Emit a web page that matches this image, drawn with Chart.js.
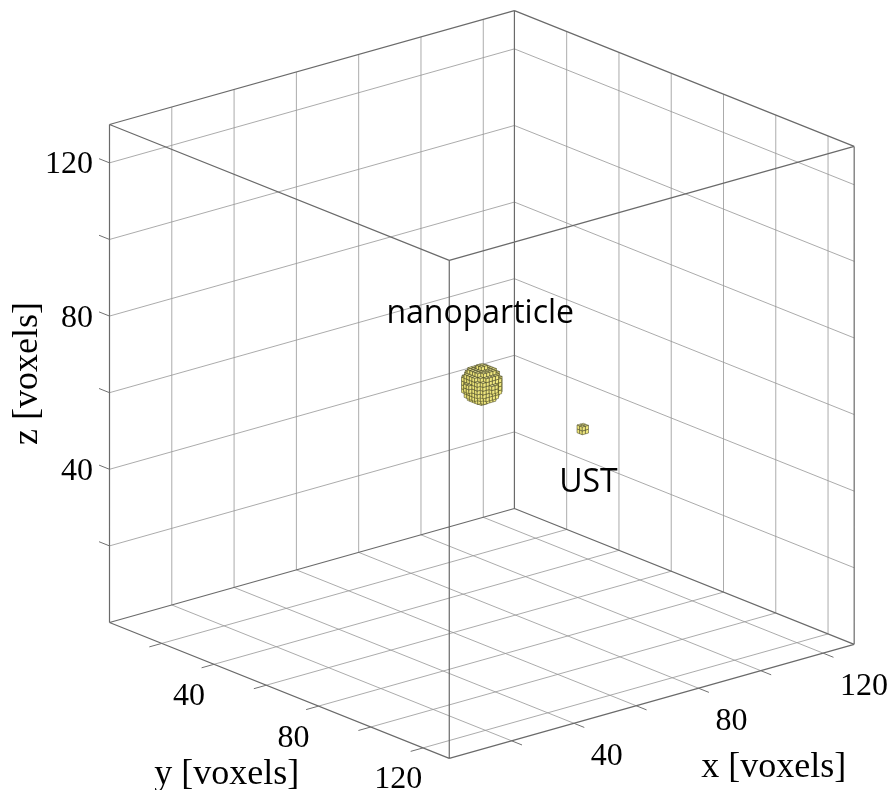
<!DOCTYPE html>
<html>
<head>
<meta charset="utf-8">
<script src="https://cdn.jsdelivr.net/npm/chart.js@4.4.0/dist/chart.umd.min.js"></script>
<style>
  html, body { margin: 0; padding: 0; background: #fff; }
  canvas { display: block; }
</style>
</head>
<body>
<canvas id="chart" width="891" height="790"></canvas>
<script>
// axis limits and ticks (voxels)
const axisMin = 0;
const axisMax = 130;
const xTicks = [20, 40, 60, 80, 100, 120];
const yTicks = [20, 40, 60, 80, 100, 120];
const zTicks = [20, 40, 60, 80, 100, 120];
const xTickLabels = ['', '40', '', '80', '', '120'];
const yTickLabels = ['', '40', '', '80', '', '120'];
const zTickLabels = ['', '40', '', '80', '', '120'];
const axisTitles = ['x [voxels]', 'y [voxels]', 'z [voxels]'];

// camera angles, degrees
const viewAzimuth = 40;
const viewElevation = 19.6;

// voxelised objects in the volume
const objectNames = ['nanoparticle', 'UST'];
const objectX = [65, 63];
const objectY = [65, 106];
const objectZ = [65, 65];
const objectRadius = [4.6, 1.2];

// layout (pixels)
const W = 891, H = 790;
const originPx = [109.5, 622.5];   // where (0,0,0) lands
const pxPerUnit = 4.066;
const tickLen = 4;                 // data units
const objectLabelOffset = [[-1.6, -61], [5.7, 63]];

const az = viewAzimuth * Math.PI / 180;
const el = viewElevation * Math.PI / 180;

// orthographic view -> 2D plane coordinates
function proj(x, y, z) {
    return {
        x: x * Math.cos(az) + y * Math.sin(az),
        y: z * Math.cos(el) + Math.sin(el) * (x * Math.sin(az) - y * Math.cos(az))
    };
}

function toPoints(segments) {
    const pts = [];
    segments.forEach(([a, b]) => {
        pts.push(proj(...a), proj(...b), { x: NaN, y: NaN });
    });
    return pts;
}

const M = axisMax, m = axisMin;

// grid on the floor and the two back walls
const gridSegs = [];
xTicks.forEach(t => {
    gridSegs.push([[t, m, m], [t, M, m]]);
    gridSegs.push([[t, m, m], [t, m, M]]);
});
yTicks.forEach(t => {
    gridSegs.push([[m, t, m], [M, t, m]]);
    gridSegs.push([[M, t, m], [M, t, M]]);
});
zTicks.forEach(t => {
    gridSegs.push([[m, m, t], [M, m, t]]);
    gridSegs.push([[M, m, t], [M, M, t]]);
});

// box edges
const boxSegs = [
    [[m, m, m], [M, m, m]], [[M, m, m], [M, M, m]], [[M, M, m], [m, M, m]], [[m, M, m], [m, m, m]],
    [[m, m, M], [M, m, M]], [[M, m, M], [M, M, M]], [[M, M, M], [m, M, M]], [[m, M, M], [m, m, M]],
    [[m, m, m], [m, m, M]], [[M, m, m], [M, m, M]], [[M, M, m], [M, M, M]], [[m, M, m], [m, M, M]]
];

// tick marks
const tickSegs = [];
xTicks.forEach(t => tickSegs.push([[t, M, m], [t, M + tickLen, m]]));
yTicks.forEach(t => tickSegs.push([[m, t, m], [m - tickLen, t, m]]));
zTicks.forEach(t => tickSegs.push([[m, m, t], [m, m - tickLen, t]]));

// voxel surfaces facing the camera, sorted back to front
const view = [-Math.cos(el) * Math.sin(az), Math.cos(el) * Math.cos(az), Math.sin(el)];
function voxelFaces(cx, cy, cz, r) {
    const cells = new Set();
    const list = [];
    const n = Math.ceil(r) + 1;
    const bx = Math.floor(cx), by = Math.floor(cy), bz = Math.floor(cz);
    for (let i = bx - n; i <= bx + n; i++)
        for (let j = by - n; j <= by + n; j++)
            for (let k = bz - n; k <= bz + n; k++) {
                const d = Math.hypot(i + 0.5 - cx, j + 0.5 - cy, k + 0.5 - cz);
                if (d <= r) { cells.add(i + ',' + j + ',' + k); list.push([i, j, k]); }
            }
    const has = (i, j, k) => cells.has(i + ',' + j + ',' + k);
    const faces = [];
    list.forEach(([i, j, k]) => {
        if (!has(i - 1, j, k)) faces.push({ c: [[i, j, k], [i, j + 1, k], [i, j + 1, k + 1], [i, j, k + 1]], s: 0 });
        if (!has(i, j + 1, k)) faces.push({ c: [[i, j + 1, k], [i + 1, j + 1, k], [i + 1, j + 1, k + 1], [i, j + 1, k + 1]], s: 1 });
        if (!has(i, j, k + 1)) faces.push({ c: [[i, j, k + 1], [i + 1, j, k + 1], [i + 1, j + 1, k + 1], [i, j + 1, k + 1]], s: 2 });
    });
    faces.forEach(f => {
        let d = 0;
        f.c.forEach(p => { d += p[0] * view[0] + p[1] * view[1] + p[2] * view[2]; });
        f.depth = d;
    });
    faces.sort((a, b) => a.depth - b.depth);
    return faces;
}

const faceColors = ['#ece377', '#f0e87f', '#f5ef98'];

const overlayPlugin = {
    id: 'overlay',
    afterDatasetsDraw(chart) {
        const ctx = chart.ctx;
        const sx = chart.scales.x, sy = chart.scales.y;
        const px = (x, y, z) => {
            const p = proj(x, y, z);
            return [sx.getPixelForValue(p.x), sy.getPixelForValue(p.y)];
        };
        ctx.save();

        // voxel objects
        objectNames.forEach((name, o) => {
            const faces = voxelFaces(objectX[o], objectY[o], objectZ[o], objectRadius[o]);
            ctx.lineWidth = 0.6;
            ctx.strokeStyle = 'rgba(60,60,30,0.85)';
            faces.forEach(f => {
                ctx.beginPath();
                f.c.forEach((p, idx) => {
                    const q = px(...p);
                    if (idx === 0) ctx.moveTo(q[0], q[1]); else ctx.lineTo(q[0], q[1]);
                });
                ctx.closePath();
                ctx.fillStyle = faceColors[f.s];
                ctx.fill();
                ctx.stroke();
            });
        });

        // object labels
        ctx.fillStyle = '#000';
        ctx.font = '32px "Open Sans"';
        ctx.textAlign = 'center';
        ctx.textBaseline = 'alphabetic';
        objectNames.forEach((name, o) => {
            const c = px(objectX[o], objectY[o], objectZ[o]);
            ctx.fillText(name, c[0] + objectLabelOffset[o][0], c[1] + objectLabelOffset[o][1]);
        });

        // tick labels
        ctx.font = '32px "Liberation Serif"';
        zTicks.forEach((t, i) => {
            const p = px(m, m, t);
            ctx.textAlign = 'right';
            ctx.fillText(zTickLabels[i], p[0] - 16.5, p[1] + 10.5);
        });
        xTicks.forEach((t, i) => {
            const p = px(t, M, m);
            ctx.textAlign = 'left';
            ctx.fillText(xTickLabels[i], p[0] + 17, p[1] + 42);
        });
        yTicks.forEach((t, i) => {
            const p = px(m, t, m);
            ctx.textAlign = 'center';
            ctx.fillText(yTickLabels[i], p[0] - 25, p[1] + 40.5);
        });

        // axis titles
        ctx.font = '36px "Liberation Serif"';
        ctx.textAlign = 'center';
        let p = px((m + M) / 2, M, m);
        ctx.fillText(axisTitles[0], p[0] + 122, p[1] + 75.6);
        p = px(m, (m + M) / 2, m);
        ctx.fillText(axisTitles[1], p[0] - 52.7, p[1] + 93.6);
        p = px(m, m, (m + M) / 2);
        ctx.translate(p[0] - 82, p[1]);
        ctx.rotate(-Math.PI / 2);
        ctx.textBaseline = 'middle';
        ctx.fillText(axisTitles[2], 0, 0);
        ctx.restore();
    }
};

const ctx = document.getElementById('chart').getContext('2d');
new Chart(ctx, {
    type: 'scatter',
    data: {
        datasets: [
            {
                label: 'grid',
                data: toPoints(gridSegs),
                showLine: true,
                borderColor: 'rgba(150,150,150,0.8)',
                borderWidth: 1,
                pointRadius: 0,
                spanGaps: false,
                order: 3
            },
            {
                label: 'box',
                data: toPoints(boxSegs),
                showLine: true,
                borderColor: '#6a6a6a',
                borderWidth: 1.2,
                pointRadius: 0,
                spanGaps: false,
                order: 2
            },
            {
                label: 'ticks',
                data: toPoints(tickSegs),
                showLine: true,
                borderColor: '#707070',
                borderWidth: 1,
                pointRadius: 0,
                spanGaps: false,
                order: 1
            }
        ]
    },
    options: {
        responsive: false,
        animation: false,
        events: [],
        layout: { padding: 0 },
        plugins: { legend: { display: false }, tooltip: { enabled: false } },
        scales: {
            x: {
                type: 'linear', display: false,
                min: -originPx[0] / pxPerUnit,
                max: (W - originPx[0]) / pxPerUnit
            },
            y: {
                type: 'linear', display: false,
                min: (originPx[1] - H) / pxPerUnit,
                max: originPx[1] / pxPerUnit
            }
        }
    },
    plugins: [overlayPlugin]
});
</script>
</body>
</html>
